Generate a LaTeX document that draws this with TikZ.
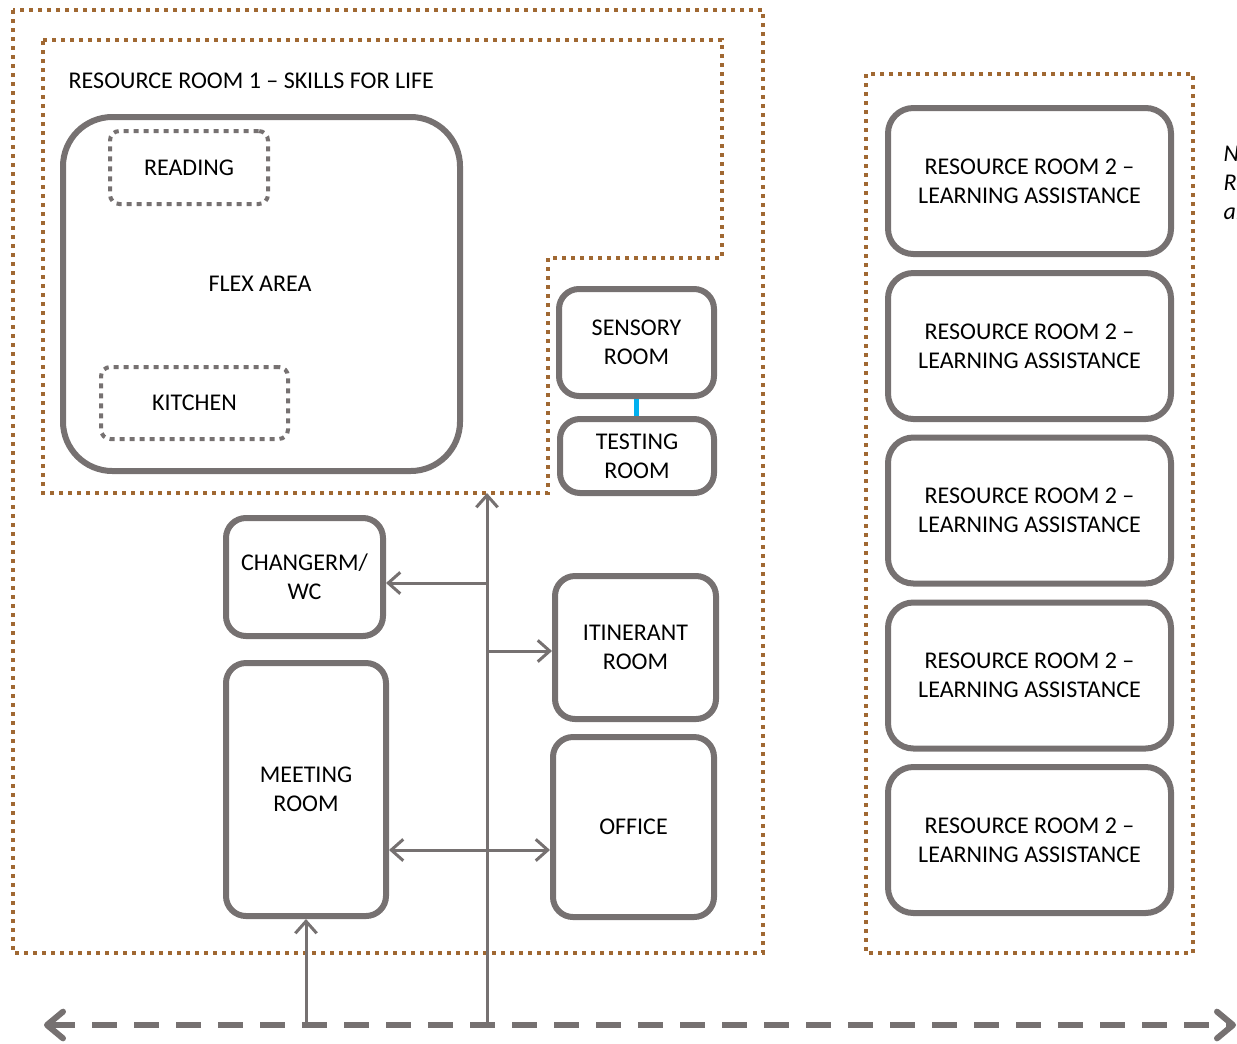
\documentclass[tikz,border=0pt]{standalone}
\usepackage{fontspec}
\setmainfont{Carlito}
\usetikzlibrary{arrows.meta}
\definecolor{wallgray}{RGB}{118,113,113}
\definecolor{wallbrown}{RGB}{160,104,50}
\definecolor{doorblue}{RGB}{0,176,240}
\tikzset{
  basic/.style    = {draw=wallgray, font=\fontsize{18}{21.5}\selectfont, align=center, rectangle},
  room/.style     = {basic, line width=4.5pt, rounded corners=15pt},
  big room/.style = {room, rounded corners=19pt, minimum width=212.25pt,
                     minimum height=109.5pt},
  zone/.style     = {basic, line width=3pt, rounded corners=7pt,
                     dash pattern=on 3.75pt off 3.75pt},
  wall/.style     = {draw=wallbrown, line width=3pt, dash pattern=on 3pt off 3.75pt},
  caption/.style  = {font=\fontsize{18}{21.5}\selectfont, anchor=west, align=left},
  arc/.style      = {draw=wallgray, line width=2.25pt,
                     -{Straight Barb[length=9pt,width=16pt]}},
  arcs/.style     = {arc, {Straight Barb[length=9pt,width=16pt]}-{Straight Barb[length=9pt,width=16pt]}},
  hall/.style     = {draw=wallgray, line width=4.5pt, dash pattern=on 18.75pt off 12.75pt,
                     {Straight Barb[round,length=12pt,width=20pt]}-{Straight Barb[round,length=12pt,width=20pt]}}
}

\begin{document}
\begin{tikzpicture}[x=0.75pt, y=-0.75pt]
  \useasboundingbox (0,0) rectangle (1237,1043);
  \draw[wall] (13,10) rectangle (763,953);
  \draw[wall] (43,40) -- (722,40) -- (722,258) -- (548,258) -- (548,493) -- (43,493) -- cycle;
  \draw[wall] (866,74) rectangle (1193,953);
  \node[caption] (title) at (64,81) {RESOURCE ROOM 1 -- SKILLS FOR LIFE};
  \node[room, rounded corners=37pt, minimum width=297.75pt, minimum height=265.5pt] (flex) at (261.5,294) {};
  \node[caption, anchor=center] (flextext) at (260,284) {FLEX AREA};
  \node[zone, minimum width=118.5pt, minimum height=54.75pt] (reading) at (189,167.5) {READING};
  \node[zone, minimum width=140.25pt, minimum height=54pt] (kitchen) at (194.5,403) {KITCHEN};
  \node[room, minimum width=116.25pt, minimum height=80.25pt] (sensory) at (636.5,342.5) {SENSORY\\ROOM};
  \node[room, minimum width=115.5pt, minimum height=55.5pt] (testing) at (637,456) {TESTING\\ROOM};
  \node[room, minimum width=117.75pt, minimum height=88.5pt] (changerm) at (304.5,577) {CHANGERM/\\WC};
  \node[room, minimum width=120pt, minimum height=189.75pt] (meeting) at (306,789.5) {MEETING\\ROOM};
  \node[room, minimum width=120.75pt, minimum height=107.25pt] (itinerant) at (635.5,647.5) {ITINERANT\\ROOM};
  \node[room, minimum width=120.75pt, minimum height=135pt] (office) at (633.5,827) {OFFICE};
  \foreach \y/\n in {181/1,346/2,510.5/3,675.5/4,840/5}
    \node[big room] (rr\n) at (1029.5,\y) {RESOURCE ROOM 2 --\\LEARNING ASSISTANCE};
  \node[caption, font=\fontsize{18}{21.5}\selectfont\itshape] (note) at (1219,183) {No\\Re\\an};
  \coordinate (hallL) at (44,1025);
  \coordinate (hallR) at (1236,1025);
  \coordinate (hall) at (487,1025);
  \coordinate (door) at (487,493);
  \coordinate (j1) at (487,583);
  \coordinate (j2) at (487,651);
  \coordinate (j3) at (487,850);
  \draw[hall] (hallL) -- (hallR);
  \draw[arc] (hall) -- (door);
  \draw[arc] (j1) -- (j1 -| changerm.east);
  \draw[arc] (j2) -- (j2 -| itinerant.west);
  \draw[arcs] (j3 -| meeting.east) -- (j3 -| office.west);
  \draw[arc] (meeting.south |- hall) -- (meeting.south);
  \draw[doorblue, line width=3.75pt] (sensory.south) -- (sensory.south |- testing.north);
\end{tikzpicture}
\end{document}
